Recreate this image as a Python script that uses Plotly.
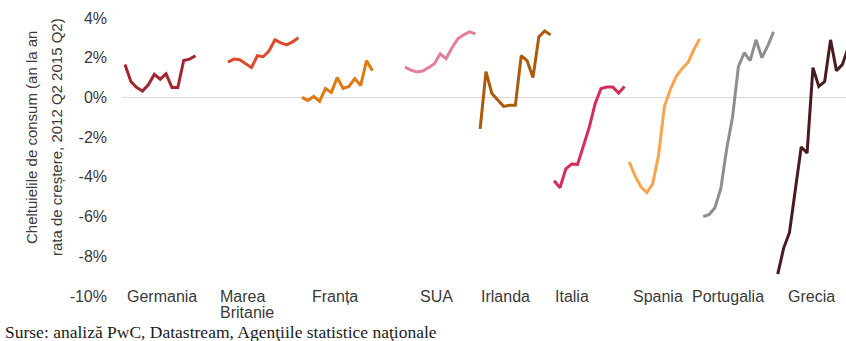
import plotly.graph_objects as go
import numpy as np

# ---------------- data ----------------
countries = ["Germania", "Marea Britanie", "Franța", "SUA", "Irlanda",
             "Italia", "Spania", "Portugalia", "Grecia"]
quarters = ["2012 Q2", "2012 Q3", "2012 Q4", "2013 Q1", "2013 Q2", "2013 Q3",
            "2013 Q4", "2014 Q1", "2014 Q2", "2014 Q3", "2014 Q4", "2015 Q1", "2015 Q2"]

germania = [1.66, 0.8, 0.5, 0.32, 0.65, 1.16, 0.92, 1.19, 0.5, 0.5, 1.86, 1.93, 2.1]
marea_britanie = [1.78, 1.93, 1.9, 1.7, 1.5, 2.1, 2.05, 2.35, 2.9, 2.75, 2.65, 2.8, 3.0]
franta = [0.0, -0.15, 0.05, -0.2, 0.45, 0.25, 1.0, 0.45, 0.55, 0.95, 0.6, 1.85, 1.35]
sua = [1.53, 1.38, 1.28, 1.33, 1.5, 1.7, 2.2, 1.95, 2.5, 2.95, 3.15, 3.3, 3.2]
irlanda = [-1.58, 1.3, 0.2, -0.15, -0.45, -0.4, -0.4, 2.1, 1.85, 1.0, 3.05, 3.35, 3.15]
italia = [-4.2, -4.55, -3.6, -3.35, -3.37, -2.4, -1.5, -0.3, 0.45, 0.52, 0.52, 0.22, 0.55]
spania = [-3.25, -3.95, -4.5, -4.8, -4.35, -2.9, -0.45, 0.4, 1.05, 1.45, 1.75, 2.4, 2.95]
portugalia = [-6.0, -5.9, -5.55, -4.6, -2.6, -1.0, 1.55, 2.25, 1.85, 2.9, 2.0, 2.6, 3.3]
grecia = [-8.9, -7.6, -6.8, -4.6, -2.5, -2.8, 1.5, 0.55, 0.8, 2.9, 1.35, 1.65, 2.5]

series = [germania, marea_britanie, franta, sua, irlanda, italia, spania, portugalia, grecia]

y_ticks = [-10, -8, -6, -4, -2, 0, 2, 4]
y_title_lines = ["Cheltuielile de consum (an la an", "rata de creștere, 2012 Q2 2015 Q2)"]
source = "Surse: analiză PwC, Datastream, Agenţiile statistice naţionale"

# ---------------- layout / style ----------------
colors = ["#a3262e", "#de4a2c", "#e07a10", "#e38098", "#ad5a0c",
          "#d42d58", "#f6a54c", "#8e8e8e", "#4a1b1e"]
group_start = [0, 17.55, 30.15, 47.7, 60.5, 73.1, 85.9, 98.5, 111.2]   # axis units
label_x = [0.0, 15.84, 31.5, 49.9, 60.3, 72.9, 86.2, 96.2, 112.6]       # axis units

W, H = 846, 341
ML, MR, MT, MB = 122, 0, 18, 45
XR = [-0.51, 122.83]
YR = [-10, 4]

def px_to_paper_x(px):
    return (px - ML) / (W - ML - MR)

def px_to_paper_y(py):
    return (H - MB - py) / (H - MT - MB)

fig = go.Figure()
for name, vals, col, start in zip(countries, series, colors, group_start):
    xs = start + np.arange(len(vals))
    fig.add_trace(go.Scatter(
        x=xs, y=vals, mode="lines", name=name,
        line=dict(color=col, width=3),
        customdata=quarters, hovertemplate="%{customdata}: %{y:.1f}%<extra>" + name + "</extra>",
        cliponaxis=True,
    ))

txt_col = "#3a3a3a"
annotations = []
for name, lx in zip(countries, label_x):
    if name == "Marea Britanie":
        for i, p in enumerate(name.split(" ")):
            annotations.append(dict(x=lx, y=-10, xref="x", yref="y", text=p, showarrow=False,
                                    xanchor="left", yanchor="middle", yshift=-16 * i,
                                    font=dict(size=16, color=txt_col, family="Liberation Sans")))
    else:
        annotations.append(dict(x=lx, y=-10, xref="x", yref="y", text=name, showarrow=False,
                                xanchor="left", yanchor="middle",
                                font=dict(size=16, color=txt_col, family="Liberation Sans")))

for line, px in zip(y_title_lines, [31, 56]):
    annotations.append(dict(x=px_to_paper_x(px), y=px_to_paper_y(137), xref="paper", yref="paper",
                            text=line, showarrow=False, textangle=-90,
                            xanchor="center", yanchor="middle",
                            font=dict(size=15, color=txt_col, family="Liberation Sans")))

annotations.append(dict(x=px_to_paper_x(3), y=px_to_paper_y(332), xref="paper", yref="paper",
                        text=source, showarrow=False, xanchor="left", yanchor="middle",
                        font=dict(size=17.5, color="#1a1a1a", family="Liberation Serif")))

fig.update_layout(
    width=W, height=H,
    margin=dict(l=ML, r=MR, t=MT, b=MB, pad=0),
    paper_bgcolor="white", plot_bgcolor="white",
    showlegend=False,
    annotations=annotations,
    xaxis=dict(range=XR, showgrid=False, zeroline=False, showticklabels=False,
               showline=False, ticks="", fixedrange=True),
    yaxis=dict(range=YR, tickvals=y_ticks, ticktext=[f"{v}%" for v in y_ticks],
               showgrid=False, zeroline=True, zerolinecolor="#d9d9d9", zerolinewidth=1,
               showline=False, ticks="", ticklabelstandoff=14,
               tickfont=dict(size=16, color=txt_col, family="Liberation Sans"),
               fixedrange=True),
)

fig.write_html("out.html")
